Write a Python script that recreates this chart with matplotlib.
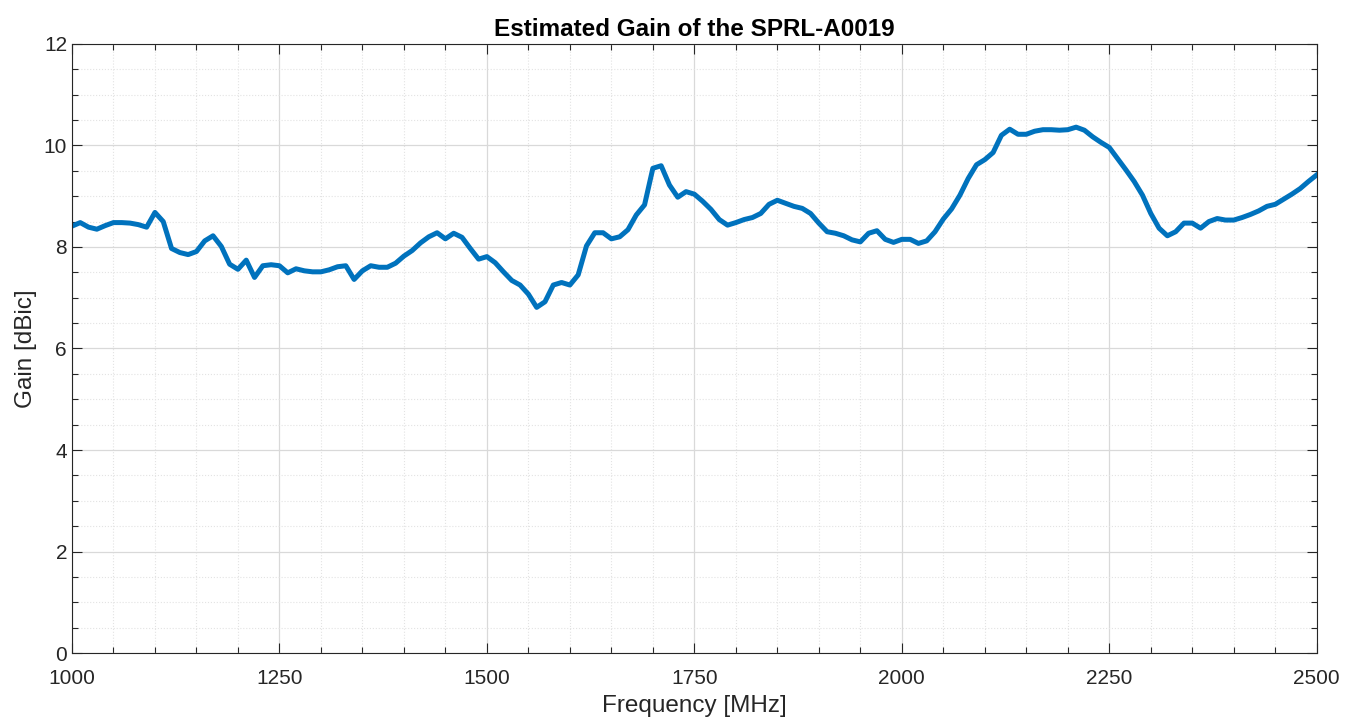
import numpy as np
import matplotlib
matplotlib.use("Agg")
import matplotlib.pyplot as plt
from matplotlib.ticker import MultipleLocator

plt.rcParams['font.family'] = ['Liberation Sans', 'DejaVu Sans']

# sweep: 1000..2500 MHz in 10 MHz steps
freq = np.arange(1000, 2510, 10)
gain = [
    8.41, 8.48, 8.39, 8.35, 8.42, 8.48, 8.48, 8.47, 8.44, 8.39,
    8.68, 8.50, 7.97, 7.89, 7.85, 7.91, 8.12, 8.22, 8.01, 7.66,
    7.56, 7.74, 7.40, 7.63, 7.65, 7.63, 7.49, 7.57, 7.53, 7.51,
    7.51, 7.55, 7.61, 7.63, 7.36, 7.53, 7.63, 7.60, 7.60, 7.68,
    7.82, 7.93, 8.08, 8.20, 8.28, 8.16, 8.27, 8.19, 7.97, 7.76,
    7.81, 7.69, 7.51, 7.34, 7.25, 7.07, 6.81, 6.92, 7.25, 7.30,
    7.25, 7.45, 8.02, 8.28, 8.28, 8.16, 8.20, 8.34, 8.63, 8.83,
    9.55, 9.60, 9.22, 8.98, 9.09, 9.04, 8.90, 8.74, 8.54, 8.43,
    8.48, 8.54, 8.58, 8.66, 8.84, 8.92, 8.86, 8.80, 8.76, 8.66,
    8.47, 8.30, 8.27, 8.22, 8.14, 8.10, 8.27, 8.32, 8.15, 8.09,
    8.15, 8.15, 8.07, 8.12, 8.30, 8.55, 8.75, 9.02, 9.35, 9.62,
    9.72, 9.86, 10.20, 10.32, 10.22, 10.22, 10.28, 10.31, 10.31, 10.30,
    10.31, 10.36, 10.30, 10.17, 10.06, 9.96, 9.74, 9.52, 9.29, 9.02,
    8.66, 8.37, 8.22, 8.30, 8.47, 8.47, 8.37, 8.50, 8.56, 8.53,
    8.53, 8.58, 8.64, 8.71, 8.80, 8.84, 8.94, 9.04, 9.15, 9.29,
    9.42,
]

fig = plt.figure(figsize=(13.45, 7.2), dpi=100)
ax = fig.add_axes([0.0535, 0.093, 0.9255, 0.846])

ax.plot(freq, gain, color='#0072BD', linewidth=3.6, solid_joinstyle='round')

ax.set_xlim(1000, 2500)
ax.set_ylim(0, 12)
ax.xaxis.set_major_locator(MultipleLocator(250))
ax.xaxis.set_minor_locator(MultipleLocator(50))
ax.yaxis.set_major_locator(MultipleLocator(2))
ax.yaxis.set_minor_locator(MultipleLocator(0.5))

ax.grid(which='major', color='#d9d9d9', linewidth=0.9, linestyle='-')
ax.grid(which='minor', color='#e3e3e3', linewidth=0.8, linestyle=':')
ax.set_axisbelow(True)

ax.tick_params(which='both', direction='in', top=True, right=True,
               colors='#262626', labelsize=15)
ax.tick_params(which='major', length=7, width=0.8)
ax.tick_params(which='minor', length=4, width=0.8)
ax.tick_params(axis='x', which='major', pad=11.5)
for s in ax.spines.values():
    s.set_color('#262626')
    s.set_linewidth(0.8)

ax.set_xlabel('Frequency [MHz]', fontsize=17.5, color='#262626', labelpad=5)
ax.set_ylabel('Gain [dBic]', fontsize=17.5, color='#262626', labelpad=5)
ax.set_title('Estimated Gain of the SPRL-A0019', fontsize=17.5,
             fontweight='bold', pad=6)

fig.savefig('out.png', dpi=100)
